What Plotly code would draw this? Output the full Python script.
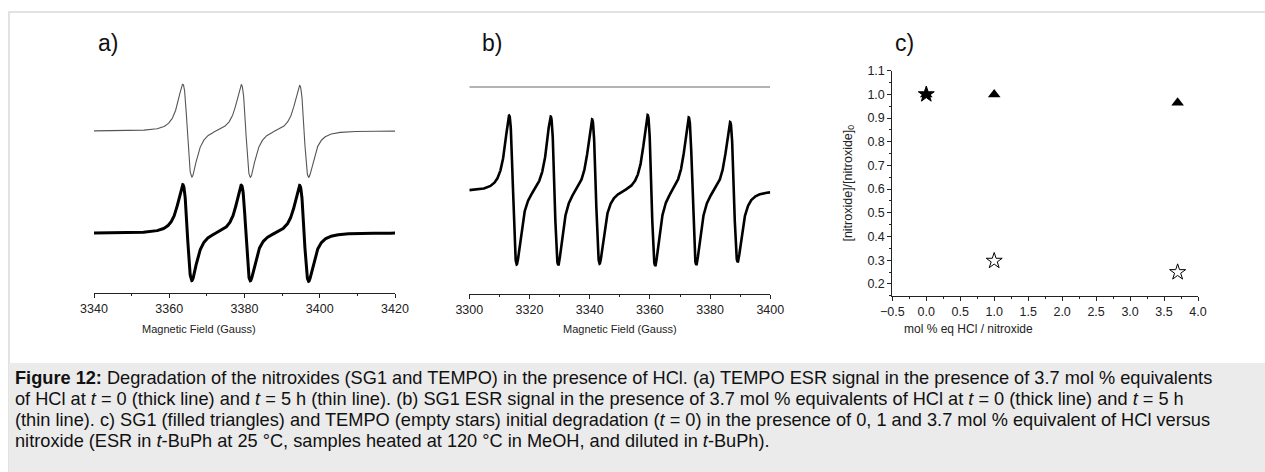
import numpy as np
import plotly.graph_objects as go

W, H = 1265, 472

# ---------------- data ----------------
# Panel a: TEMPO ESR, three hyperfine lines (centre field in Gauss)
a_centers = [3364.8, 3380.35, 3395.85]
a_width_pp = 2.4                     # peak-to-peak linewidth (G)
a_thin_base, a_thin_amp = 162.0, [46.5, 46.5, 46.0]     # t = 5 h (thin line)
a_thick_base, a_thick_amp = 60.0, [48.0, 48.0, 48.0]    # t = 0 (thick line)

# Panel b: SG1 ESR, six lines
b_centers = [3314.5, 3328.3, 3342.05, 3360.5, 3374.15, 3387.9]
b_width_pp = 2.5
b_thick_base, b_thick_amp = 103.0, [74.7, 74.7, 72.5, 75.8, 74.2, 70.3]
b_thin_base = 207.0                                      # t = 5 h, flat

# Panel c
hcl_eq = [0.0, 1.0, 3.7]
sg1_ratio = [1.0, 1.0, 0.965]
tempo_ratio = [1.0, 0.297, 0.249]

a_ticks = [3340, 3360, 3380, 3400, 3420]
b_ticks = [3300, 3320, 3340, 3360, 3380, 3400]

axis_titles = ["Magnetic Field (Gauss)", "Magnetic Field (Gauss)", "mol % eq HCl / nitroxide"]

caption_lines = [
    "<b>Figure 12:</b> Degradation of the nitroxides (SG1 and TEMPO) in the presence of HCl. "
    "(a) TEMPO ESR signal in the presence of 3.7 mol % equivalents",
    "of HCl at <i>t</i> = 0 (thick line) and <i>t</i> = 5 h (thin line). (b) SG1 ESR signal in the "
    "presence of 3.7 mol % equivalents of HCl at <i>t</i> = 0 (thick line) and <i>t</i> = 5 h",
    "(thin line). c) SG1 (filled triangles) and TEMPO (empty stars) initial degradation "
    "(<i>t</i> = 0) in the presence of 0, 1 and 3.7 mol % equivalent of HCl versus",
    "nitroxide (ESR in <i>t</i>-BuPh at 25 °C, samples heated at 120 °C in MeOH, and diluted "
    "in <i>t</i>-BuPh).",
]


def esr(field, centers, amps, width_pp, base):
    g = width_pp * np.sqrt(3) / 2
    norm = 3 * np.sqrt(3) / 8
    y = np.full_like(field, base, dtype=float)
    for c, a in zip(centers, amps):
        u = (field - c) / g
        y += a * (-2 * u / (1 + u ** 2) ** 2) / norm
    return y


def px_x(p):
    return p / W


def px_y(p):
    return 1 - p / H


FONT = "Liberation Sans, Arial, sans-serif"

fig = go.Figure()

fa = np.linspace(3340, 3420, 1601)
fig.add_trace(go.Scatter(x=fa, y=esr(fa, a_centers, a_thin_amp, a_width_pp, a_thin_base),
                         mode="lines", line=dict(color="#555555", width=1.1),
                         xaxis="x", yaxis="y", showlegend=False))
fig.add_trace(go.Scatter(x=fa, y=esr(fa, a_centers, a_thick_amp, a_width_pp, a_thick_base),
                         mode="lines", line=dict(color="#000000", width=3),
                         xaxis="x", yaxis="y", showlegend=False))

fb = np.linspace(3300, 3400, 2001)
fig.add_trace(go.Scatter(x=fb, y=np.full_like(fb, b_thin_base),
                         mode="lines", line=dict(color="#666666", width=1),
                         xaxis="x2", yaxis="y2", showlegend=False))
fig.add_trace(go.Scatter(x=fb, y=esr(fb, b_centers, b_thick_amp, b_width_pp, b_thick_base),
                         mode="lines", line=dict(color="#000000", width=2.6),
                         xaxis="x2", yaxis="y2", showlegend=False))

fig.add_trace(go.Scatter(x=hcl_eq, y=sg1_ratio, mode="markers",
                         marker=dict(symbol="triangle-up", size=11, color="#000000",
                                     line=dict(width=0)),
                         xaxis="x3", yaxis="y3", showlegend=False))
fig.add_trace(go.Scatter(x=hcl_eq, y=tempo_ratio, mode="markers",
                         marker=dict(symbol=["star", "star-open", "star-open"], size=12,
                                     color="#000000", line=dict(color="#000000", width=1)),
                         xaxis="x3", yaxis="y3", showlegend=False))

tickfont = dict(family=FONT, size=12.5, color="#222222")

common_x = dict(showline=True, linecolor="#222222", linewidth=1, ticks="outside",
                ticklen=4, tickcolor="#222222", tickwidth=1, showgrid=False,
                zeroline=False, tickfont=tickfont)

fig.update_layout(
    width=W, height=H, margin=dict(l=0, r=0, t=0, b=0, autoexpand=False),
    paper_bgcolor="white", plot_bgcolor="rgba(0,0,0,0)",
    xaxis=dict(domain=[px_x(94), px_x(395)], range=[3340, 3420], anchor="y",
               tickvals=a_ticks,
               minor=dict(dtick=10, ticks="outside", ticklen=2, tickcolor="#222222"),
               **common_x),
    yaxis=dict(domain=[px_y(293), px_y(50)], range=[0, 243], visible=False),
    xaxis2=dict(domain=[px_x(469.3), px_x(770.3)], range=[3300, 3400], anchor="y2",
                tickvals=b_ticks,
                minor=dict(dtick=10, ticks="outside", ticklen=2, tickcolor="#222222"),
                **common_x),
    yaxis2=dict(domain=[px_y(294), px_y(50)], range=[0, 244], visible=False),
    xaxis3=dict(domain=[px_x(892.3), px_x(1198)], range=[-0.5, 4.0], anchor="y3",
                dtick=0.5, tickformat=".1f",
                minor=dict(dtick=0.25, ticks="outside", ticklen=2, tickcolor="#222222"),
                **common_x),
    yaxis3=dict(domain=[px_y(295.7), px_y(70.7)], range=[0.15, 1.1], anchor="x3",
                dtick=0.1, tick0=0.2, tickformat=".1f",
                minor=dict(dtick=0.05, ticks="outside", ticklen=2, tickcolor="#222222"),
                title=dict(text="[nitroxide]/[nitroxide]<sub>0</sub>",
                           font=dict(family=FONT, size=12.5, color="#222222"),
                           standoff=12),
                **common_x),
)

# x-axis titles (placed where the reference draws them)
for text, xc, size in zip(axis_titles, [199, 620, 968], [11, 11, 12]):
    fig.add_annotation(text=text, xref="paper", yref="paper", x=px_x(xc), y=px_y(329),
                       xanchor="center", yanchor="middle", showarrow=False,
                       font=dict(family=FONT, size=size, color="#222222"))

# frame and caption background (kept inside the paper)
fig.add_shape(type="rect", xref="paper", yref="paper",
              x0=px_x(8), x1=1.0, y0=0.0, y1=px_y(11),
              line=dict(width=0), fillcolor="#e2e2e2", layer="below")
fig.add_shape(type="rect", xref="paper", yref="paper",
              x0=px_x(10), x1=1.0, y0=0.0, y1=px_y(13),
              line=dict(width=0), fillcolor="white", layer="below")
fig.add_shape(type="rect", xref="paper", yref="paper",
              x0=px_x(9), x1=1.0, y0=0.0, y1=px_y(363),
              line=dict(width=0), fillcolor="#ebebeb", layer="below")

for label, xp in [("a)", 96), ("b)", 480), ("c)", 893)]:
    fig.add_annotation(text=label, xref="paper", yref="paper", x=px_x(xp), y=px_y(43),
                       xanchor="left", yanchor="middle", showarrow=False,
                       font=dict(family=FONT, size=23, color="#111111"))

for i, line in enumerate(caption_lines):
    fig.add_annotation(text=line, xref="paper", yref="paper", x=px_x(13),
                       y=px_y(378 + 21 * i), xanchor="left", yanchor="middle",
                       align="left", showarrow=False,
                       font=dict(family=FONT, size=18.2, color="#111111"))

fig.write_html("out.html",
               post_script="document.body.style.margin='0';"
                           "document.documentElement.style.overflow='hidden';")
